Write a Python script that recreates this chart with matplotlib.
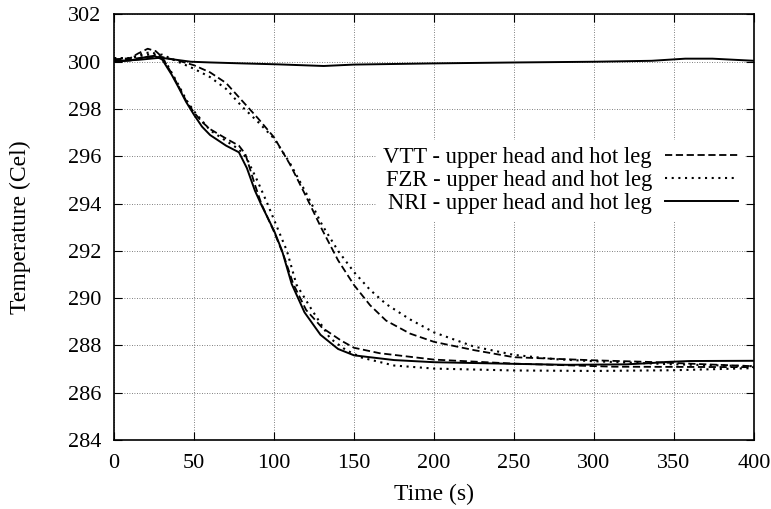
import matplotlib
matplotlib.use("Agg")
import matplotlib.pyplot as plt

plt.rcParams['font.family'] = ['Liberation Serif', 'DejaVu Serif']

# VTT - dashed
vtt_fast_t = [0, 10, 15, 21, 26, 30, 36, 40, 45, 50, 55, 60, 70, 78, 82, 88, 92, 100, 106, 112, 120, 130, 142, 150, 166, 200, 250, 312, 400]
vtt_fast_T = [300.1, 300.15, 300.35, 300.55, 300.45, 300.2, 299.5, 299.0, 298.35, 297.85, 297.45, 297.15, 296.75, 296.45, 296.1, 294.8, 294.0, 292.8, 291.8, 290.6, 289.5, 288.75, 288.2, 287.9, 287.67, 287.4, 287.23, 287.1, 287.08]
vtt_slow_t = [0, 10, 20, 30, 40, 50, 60, 70, 80, 90, 100, 110, 120, 130, 140, 150, 160, 170, 185, 200, 225, 250, 300, 335, 370, 400]
vtt_slow_T = [300.1, 300.1, 300.2, 300.2, 300.05, 299.85, 299.55, 299.1, 298.35, 297.6, 296.8, 295.65, 294.3, 292.9, 291.6, 290.55, 289.7, 289.05, 288.5, 288.15, 287.8, 287.5, 287.37, 287.3, 287.2, 287.12]

# FZR - dotted
fzr_fast_t = [0, 10, 18, 23, 28, 33, 40, 45, 50, 55, 60, 70, 78, 83, 90, 96, 102, 108, 114, 123, 135, 145, 155, 175, 200, 250, 300, 350, 400]
fzr_fast_T = [300.15, 300.15, 300.35, 300.4, 300.3, 299.9, 299.05, 298.4, 297.9, 297.5, 297.1, 296.65, 296.3, 295.9, 294.9, 293.97, 292.98, 292.0, 290.57, 289.57, 288.3, 287.8, 287.48, 287.15, 287.02, 286.94, 286.92, 286.95, 287.04]
fzr_slow_t = [0, 10, 20, 30, 40, 50, 60, 70, 80, 90, 100, 110, 120, 130, 140, 150, 160, 170, 185, 200, 225, 250, 275, 300, 350, 400]
fzr_slow_T = [300.15, 300.15, 300.3, 300.3, 300.0, 299.7, 299.35, 298.85, 298.1, 297.45, 296.75, 295.7, 294.45, 293.1, 292.0, 291.1, 290.35, 289.75, 289.1, 288.55, 287.95, 287.6, 287.42, 287.33, 287.2, 287.12]

# NRI - solid
nri_fast_t = [0, 10, 20, 25, 30, 36, 40, 45, 50, 55, 60, 70, 78, 83, 88, 92, 100, 105, 111, 119, 129, 140, 150, 175, 200, 250, 283, 320, 335, 345, 360, 400]
nri_fast_T = [300.0, 300.05, 300.2, 300.25, 300.1, 299.45, 298.95, 298.3, 297.75, 297.25, 296.9, 296.45, 296.17, 295.5, 294.55, 293.95, 292.85, 292.0, 290.6, 289.4, 288.45, 287.85, 287.58, 287.38, 287.29, 287.22, 287.18, 287.2, 287.25, 287.3, 287.34, 287.35]
nri_flat_t = [0, 15, 29, 48, 60, 80, 102, 131, 150, 200, 252, 300, 336, 357, 374, 400]
nri_flat_T = [300.03, 300.08, 300.17, 300.0, 299.97, 299.93, 299.89, 299.82, 299.88, 299.93, 299.97, 300.0, 300.04, 300.13, 300.13, 300.04]

labels = ["VTT - upper head and hot leg", "FZR - upper head and hot leg", "NRI - upper head and hot leg"]

fig = plt.figure(figsize=(7.71, 5.09), dpi=100)
ax = fig.add_axes([0.148, 0.1356, 0.830, 0.836])

dash = (0, (4, 2))
dot = (0, (1, 2.2))
l1, = ax.plot(vtt_fast_t, vtt_fast_T, color='black', lw=1.3, linestyle=dash)
ax.plot(vtt_slow_t, vtt_slow_T, color='black', lw=1.3, linestyle=dash)
l2, = ax.plot(fzr_fast_t, fzr_fast_T, color='black', lw=1.5, linestyle=dot)
ax.plot(fzr_slow_t, fzr_slow_T, color='black', lw=1.5, linestyle=dot)
l3, = ax.plot(nri_fast_t, nri_fast_T, color='black', lw=1.4)
ax.plot(nri_flat_t, nri_flat_T, color='black', lw=1.4)

ax.set_xlim(0, 400)
ax.set_ylim(284, 302)
ax.set_xticks(range(0, 401, 50))
ax.set_yticks(range(284, 303, 2))
ax.grid(True, color='#555555', linestyle=(0, (1, 2)), lw=0.6)
ax.tick_params(direction='in', length=6, top=True, right=True, labelsize=16)
ax.tick_params(axis='y', pad=9)
ax.tick_params(axis='x', pad=10)
for s in ax.spines.values():
    s.set_linewidth(1.2)

ax.set_xlabel("Time (s)", fontsize=17, labelpad=8)
ax.set_ylabel("Temperature (Cel)", fontsize=17, labelpad=27)

leg = ax.legend([l1, l2, l3], labels, loc='center right', bbox_to_anchor=(1.003, 0.61),
                markerfirst=False, fontsize=16.3, handlelength=3.2, handletextpad=0.6,
                labelspacing=0.1, frameon=True, fancybox=False, borderpad=0.3)
leg.get_frame().set_edgecolor('none')
leg.get_frame().set_facecolor('white')
leg.get_frame().set_alpha(1)
for t in leg.get_texts():
    t.set_ha('right')

fig.savefig("out.png", dpi=100)
